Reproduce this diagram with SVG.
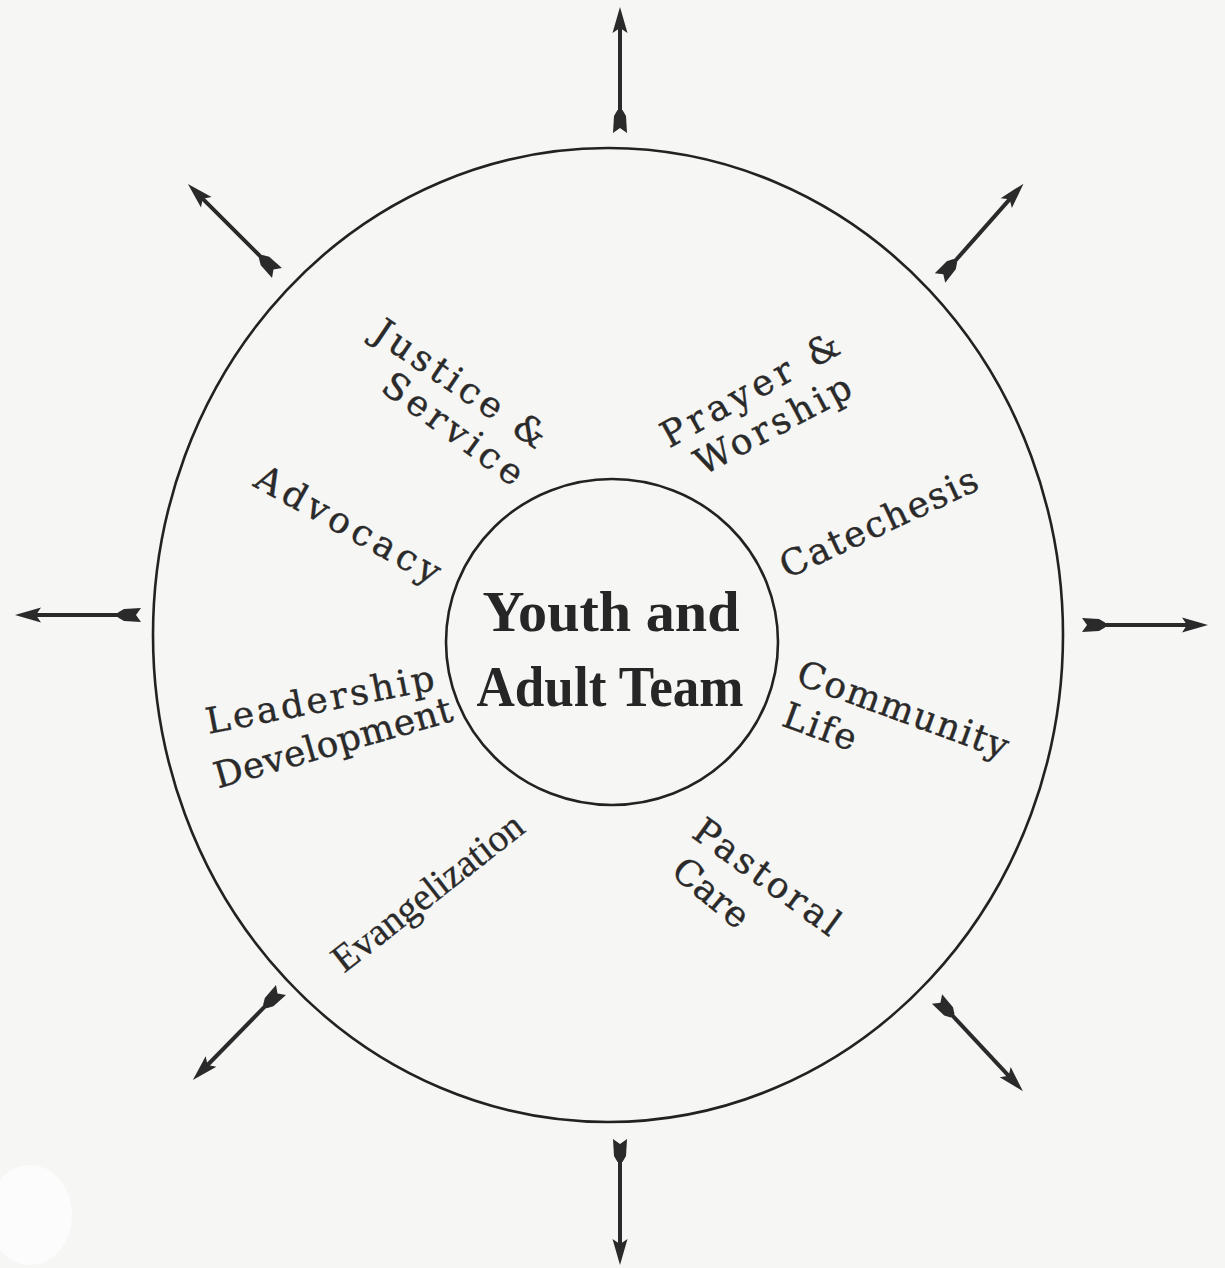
<svg xmlns="http://www.w3.org/2000/svg" width="1225" height="1268" viewBox="0 0 1225 1268">
<style>
.ring{fill:none;stroke:#222;stroke-width:2.6}
.lbl{font-family:"DejaVu Serif","Liberation Serif",serif;font-size:36px;fill:#2a2a2a;stroke:#2a2a2a;stroke-width:0.4;text-anchor:middle}
.lblt{font-family:"Liberation Serif",serif;font-size:39px;fill:#2a2a2a;stroke:#2a2a2a;stroke-width:0.3;text-anchor:middle}
.core{font-family:"Liberation Serif",serif;font-weight:bold;font-size:58px;fill:#262626;text-anchor:middle}
</style>
<defs>
<g id="arrow">
<line x1="10" y1="0" x2="112" y2="0" stroke="#2a2a2a" stroke-width="4"/>
<polygon points="0,-7 17,-6 23,-2.5 23,2.5 17,6 0,7 5,0" fill="#2a2a2a"/>
<polygon points="126,0 100,-7.5 105,0 100,7.5" fill="#2a2a2a"/>
</g>
</defs>
<rect width="1225" height="1268" fill="#f6f6f4"/>
<ellipse cx="30" cy="1215" rx="42" ry="50" fill="#fcfcfc"/>
<g id="connectors">
<use href="#arrow" transform="translate(620,133) rotate(-90)"/>
<use href="#arrow" transform="translate(277,273) rotate(-135)"/>
<use href="#arrow" transform="translate(141,615) rotate(180)"/>
<use href="#arrow" transform="translate(1082,625) rotate(0)"/>
<use href="#arrow" transform="translate(940,278) rotate(-48.5)"/>
<use href="#arrow" transform="translate(281,990) rotate(134.4)"/>
<use href="#arrow" transform="translate(937,999) rotate(47)"/>
<use href="#arrow" transform="translate(620,1139) rotate(90)"/>
</g>
<g id="outer-circle">
<ellipse class="ring" cx="608" cy="635" rx="455" ry="487"/>
</g>
<g id="core">
<ellipse class="ring" cx="612" cy="642" rx="166" ry="163"/>
<text class="core" x="611" y="631" textLength="257" lengthAdjust="spacingAndGlyphs">Youth and</text>
<text class="core" x="610" y="706" textLength="267" lengthAdjust="spacingAndGlyphs">Adult Team</text>
</g>
<g id="justice-service">
<text class="lbl" transform="translate(460,384) rotate(34)" y="12" textLength="200">Justice &amp;</text>
<text class="lbl" transform="translate(453,429) rotate(36)" y="12" textLength="165">Service</text>
</g>
<g id="prayer-worship">
<text class="lbl" transform="translate(750,390) rotate(-29)" y="12" textLength="198">Prayer &amp;</text>
<text class="lbl" transform="translate(773,425) rotate(-28)" y="12" textLength="172">Worship</text>
</g>
<g id="catechesis">
<text class="lbl" transform="translate(879,523) rotate(-25)" y="12" textLength="214">Catechesis</text>
</g>
<g id="advocacy">
<text class="lbl" transform="translate(348,525) rotate(29)" y="12" textLength="206">Advocacy</text>
</g>
<g id="leadership-development">
<text class="lbl" transform="translate(320,700) rotate(-11)" y="12" textLength="232">Leadership</text>
<text class="lbl" transform="translate(333,743) rotate(-16)" y="12" textLength="246">Development</text>
</g>
<g id="community-life">
<text class="lbl" transform="translate(903,710) rotate(20)" y="12" textLength="222">Community</text>
<text class="lbl" transform="translate(820,727) rotate(20)" y="12" textLength="76">Life</text>
</g>
<g id="evangelization">
<text class="lblt" transform="translate(428,893) rotate(-38)" y="12" textLength="232">Evangelization</text>
</g>
<g id="pastoral-care">
<text class="lbl" transform="translate(767,877) rotate(36)" y="12" textLength="172">Pastoral</text>
<text class="lbl" transform="translate(711,893) rotate(40)" y="12" textLength="88">Care</text>
</g>
</svg>
